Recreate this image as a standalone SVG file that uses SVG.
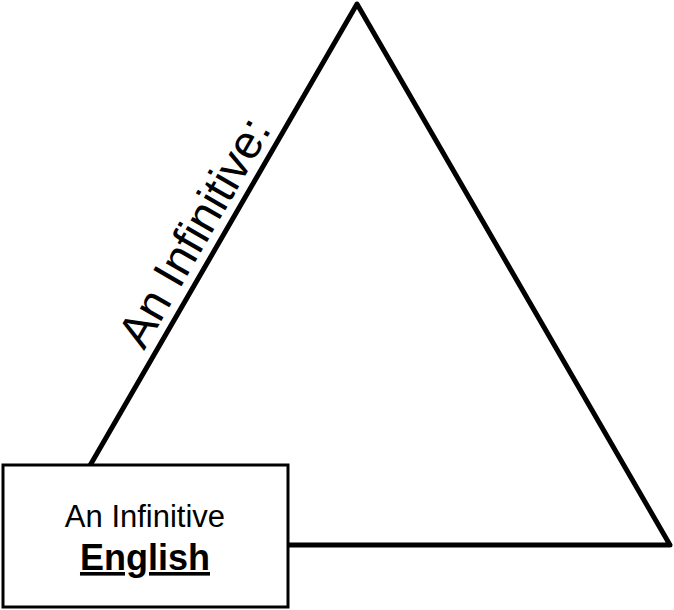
<svg xmlns="http://www.w3.org/2000/svg" width="674" height="610" viewBox="0 0 674 610">
<style>
.t{font-family:"Liberation Sans",Arial,sans-serif;fill:#000}
</style>
<rect width="674" height="610" fill="#fff"/>
<g id="triangle">
<polygon points="357,4 44,545 670,545" fill="none" stroke="#000" stroke-width="5" stroke-linejoin="round"/>
<text class="t" font-size="47" transform="translate(144,351) rotate(-60)">An Infinitive:</text>
</g>
<g id="box">
<rect x="3" y="465" width="285" height="142" fill="#fff" stroke="#000" stroke-width="3"/>
<text class="t" x="145" y="527" font-size="31" text-anchor="middle">An Infinitive</text>
<text class="t" x="145" y="570" font-size="36" font-weight="bold" text-anchor="middle" text-decoration="underline">English</text>
</g>
</svg>
